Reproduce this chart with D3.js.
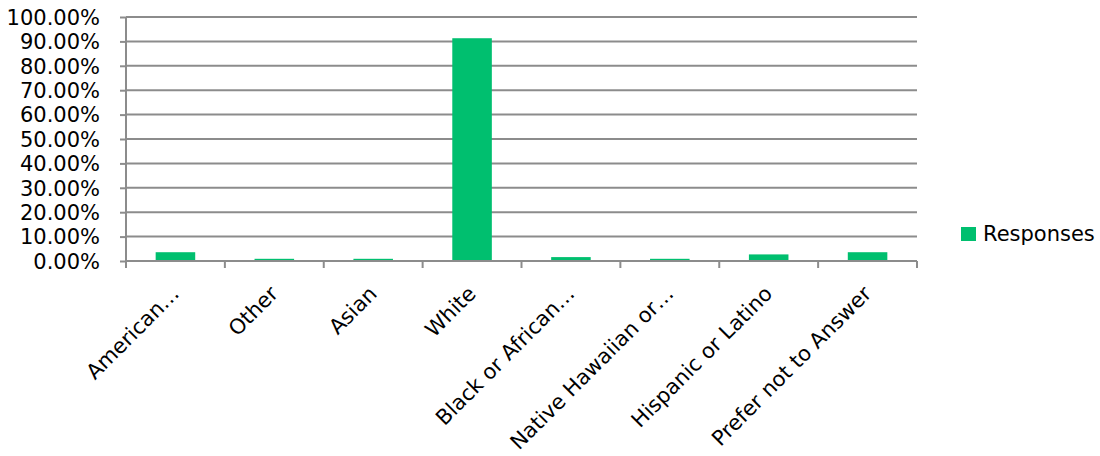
<!DOCTYPE html>
<html><head><meta charset="utf-8">
<script src="https://cdn.jsdelivr.net/npm/d3@7"></script>
<style>
html,body{margin:0;padding:0;background:#fff;}
svg text{font-family:"DejaVu Sans",sans-serif;fill:#000;}
</style></head>
<body><svg id="chart" width="1100" height="456"></svg>
<script>
const categories = ["American…","Other","Asian","White","Black or African…","Native Hawaiian or…","Hispanic or Latino","Prefer not to Answer"];
const responses = [0.036, 0.009, 0.009, 0.913, 0.016, 0.009, 0.027, 0.036];
const yTicks = [0,0.1,0.2,0.3,0.4,0.5,0.6,0.7,0.8,0.9,1.0];
const seriesName = "Responses";

(function(){
const svg = d3.select("#chart");
const mLeft = 126, mRight = 917, mTop = 17, mBottom = 261;
const gridColor = "#8c8c8c", barColor = "#00bf6f";

const x = d3.scaleBand().domain(categories).range([mLeft, mRight]).paddingInner(0.6).paddingOuter(0.3);
const y = d3.scaleLinear().domain([0,1]).range([mBottom, mTop]);

svg.append("g").selectAll("line").data(yTicks).join("line")
  .attr("x1", mLeft).attr("x2", mRight)
  .attr("y1", d => y(d)).attr("y2", d => y(d))
  .attr("stroke", gridColor).attr("stroke-width", 2);

const yAxis = svg.append("g").attr("transform", `translate(${mLeft},0)`)
  .call(d3.axisLeft(y).tickValues(yTicks).tickFormat(d3.format(".2%")).tickSize(6).tickPadding(20));
yAxis.select(".domain").attr("stroke", gridColor).attr("stroke-width", 2).attr("d", `M0,${mTop}V${mBottom}`);
yAxis.selectAll(".tick line").attr("stroke", gridColor).attr("stroke-width", 2);
yAxis.selectAll(".tick text").attr("font-size", 21).attr("fill","#000").attr("dy","0.35em")
  .attr("font-family","DejaVu Sans");

const n = categories.length;
const boundaries = d3.range(n + 1).map(i => mLeft + i * (mRight-mLeft)/n);
const xg = svg.append("g");
xg.append("line").attr("x1", mLeft).attr("x2", mRight).attr("y1", mBottom).attr("y2", mBottom)
  .attr("stroke", gridColor).attr("stroke-width", 2);
xg.selectAll("line.tk").data(boundaries).join("line").attr("class","tk")
  .attr("x1", d => d).attr("x2", d => d).attr("y1", mBottom).attr("y2", mBottom + 7)
  .attr("stroke", gridColor).attr("stroke-width", 2);
xg.selectAll("text").data(categories).join("text")
  .attr("transform", d => `translate(${x(d) + x.bandwidth()/2 + 5},${mBottom + 34}) rotate(-45)`)
  .attr("text-anchor","end").attr("font-size", 21)
  .text(d => d);

// bars sit on top of the zero line
svg.append("g").selectAll("rect").data(responses).join("rect")
  .attr("x", (d,i) => x(categories[i]))
  .attr("width", x.bandwidth())
  .attr("y", d => y(d))
  .attr("height", d => Math.max(0, y(0) - 1 - y(d)))
  .attr("fill", barColor);

const lg = svg.append("g").attr("transform","translate(961,227)");
lg.append("rect").attr("width",15).attr("height",14).attr("fill",barColor);
lg.append("text").attr("x",22).attr("y",7).attr("dy","0.35em").attr("font-size",21).text(seriesName);
})();
</script></body></html>
